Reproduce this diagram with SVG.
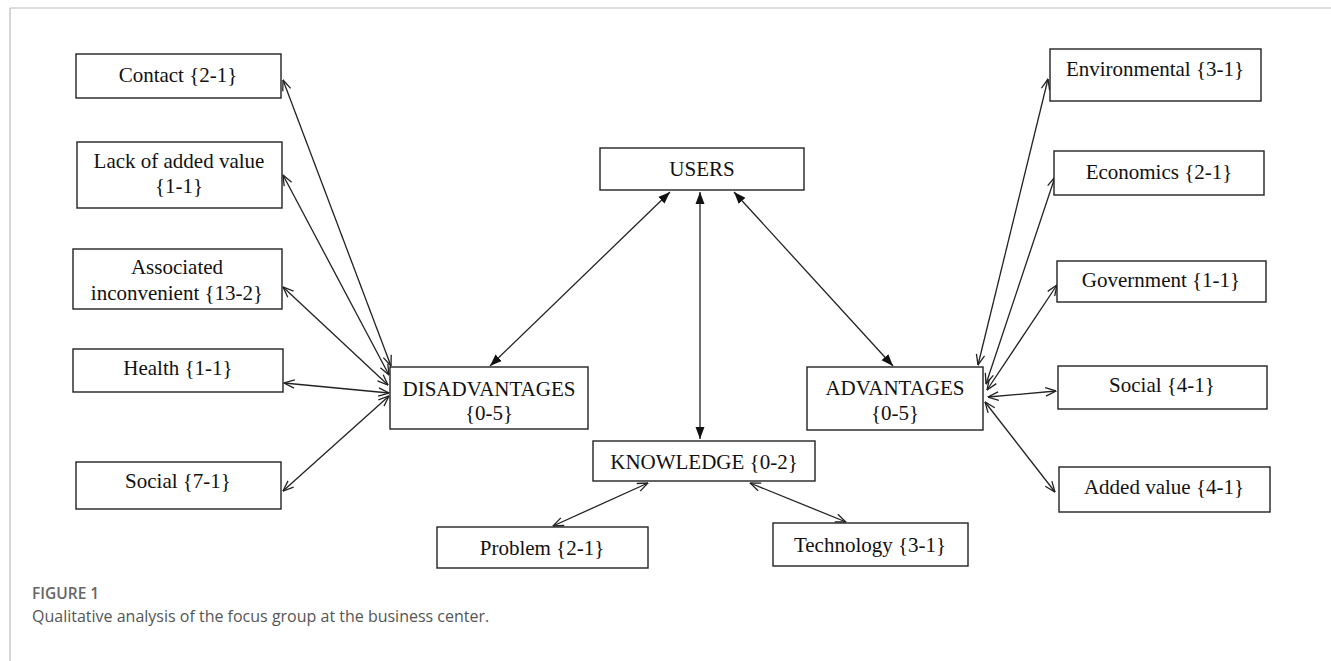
<svg xmlns="http://www.w3.org/2000/svg" width="1331" height="661" viewBox="0 0 1331 661">
<defs>
<style>
.box{fill:#fff;stroke:#222;stroke-width:1.4}
.t{font-family:"Liberation Serif","Times New Roman",serif;font-size:21px;fill:#111;text-anchor:middle}
.c{stroke:#222;stroke-width:1.3;fill:none}
.o{marker-start:url(#open);marker-end:url(#open)}
.f{marker-start:url(#fill);marker-end:url(#fill)}
.cap1{font-family:"Open Sans","Liberation Sans",sans-serif;font-size:15.5px;font-weight:600;fill:#666}
.cap2{font-family:"Open Sans","Liberation Sans",sans-serif;font-size:16px;fill:#555}
</style>
<marker id="open" viewBox="0 0 12 10" refX="11.5" refY="5" markerWidth="12" markerHeight="10" markerUnits="userSpaceOnUse" orient="auto-start-reverse">
<path d="M1,0.8 L11.5,5 L1,9.2" fill="none" stroke="#222" stroke-width="1.3"/>
</marker>
<marker id="fill" viewBox="0 0 12 10" refX="12" refY="5" markerWidth="12" markerHeight="10" markerUnits="userSpaceOnUse" orient="auto-start-reverse">
<path d="M0,0.5 L12,5 L0,9.5 z" fill="#111"/>
</marker>
</defs>
<rect width="1331" height="661" fill="#fff"/>
<g id="frame" stroke="#bbb" stroke-width="1.2">
<line x1="10" y1="8" x2="1331" y2="8"/>
<line x1="10" y1="8" x2="10" y2="661"/>
</g>
<g id="connectors">
<line class="c o" x1="391" y1="366" x2="283" y2="80"/>
<line class="c o" x1="389" y1="375" x2="283" y2="175"/>
<line class="c o" x1="388" y1="385" x2="283" y2="287"/>
<line class="c o" x1="389" y1="393" x2="284" y2="383"/>
<line class="c o" x1="389" y1="396" x2="283" y2="491"/>
<line class="c o" x1="978" y1="365" x2="1048" y2="79"/>
<line class="c o" x1="986" y1="384" x2="1055" y2="177"/>
<line class="c o" x1="987" y1="390" x2="1057" y2="285"/>
<line class="c o" x1="988" y1="397" x2="1056" y2="391"/>
<line class="c o" x1="985" y1="402" x2="1055" y2="492"/>
<line class="c f" x1="670" y1="192" x2="490" y2="366"/>
<line class="c f" x1="700" y1="192" x2="700" y2="439"/>
<line class="c f" x1="734" y1="192" x2="893" y2="366"/>
<line class="c o" x1="648" y1="483" x2="553" y2="526"/>
<line class="c o" x1="750" y1="483" x2="846" y2="522"/>
</g>
<g id="contact"><rect class="box" x="76" y="54" width="205" height="44"/><text class="t" x="178" y="82">Contact {2-1}</text></g>
<g id="lack"><rect class="box" x="77" y="142" width="205" height="66"/><text class="t" x="179" y="168">Lack of added value</text><text class="t" x="179" y="193">{1-1}</text></g>
<g id="associated"><rect class="box" x="73" y="249" width="209" height="60"/><text class="t" x="177" y="274">Associated</text><text class="t" x="177" y="300">inconvenient {13-2}</text></g>
<g id="health"><rect class="box" x="73" y="349" width="210" height="43"/><text class="t" x="178" y="375">Health {1-1}</text></g>
<g id="social-dis"><rect class="box" x="76" y="462" width="205" height="47"/><text class="t" x="178" y="488">Social {7-1}</text></g>
<g id="disadvantages"><rect class="box" x="390" y="367" width="198" height="62"/><text class="t" x="489" y="396">DISADVANTAGES</text><text class="t" x="489" y="420">{0-5}</text></g>
<g id="users"><rect class="box" x="600" y="148" width="204" height="42"/><text class="t" x="702" y="176">USERS</text></g>
<g id="knowledge"><rect class="box" x="593" y="441" width="222" height="40"/><text class="t" x="704" y="469">KNOWLEDGE {0-2}</text></g>
<g id="problem"><rect class="box" x="437" y="527" width="211" height="41"/><text class="t" x="542" y="555">Problem {2-1}</text></g>
<g id="technology"><rect class="box" x="773" y="523" width="195" height="43"/><text class="t" x="870" y="552">Technology {3-1}</text></g>
<g id="advantages"><rect class="box" x="807" y="367" width="176" height="63"/><text class="t" x="895" y="395">ADVANTAGES</text><text class="t" x="895" y="420">{0-5}</text></g>
<g id="environmental"><rect class="box" x="1050" y="49" width="211" height="52"/><text class="t" x="1155" y="76">Environmental {3-1}</text></g>
<g id="economics"><rect class="box" x="1054" y="151" width="210" height="44"/><text class="t" x="1159" y="179">Economics {2-1}</text></g>
<g id="government"><rect class="box" x="1057" y="261" width="209" height="41"/><text class="t" x="1161" y="287">Government {1-1}</text></g>
<g id="social-adv"><rect class="box" x="1058" y="366" width="209" height="43"/><text class="t" x="1162" y="392">Social {4-1}</text></g>
<g id="added-value"><rect class="box" x="1059" y="467" width="211" height="45"/><text class="t" x="1164" y="494">Added value {4-1}</text></g>
<g id="caption">
<text class="cap1" x="32" y="599">FIGURE 1</text>
<text class="cap2" x="32" y="622">Qualitative analysis of the focus group at the business center.</text>
</g>
</svg>
